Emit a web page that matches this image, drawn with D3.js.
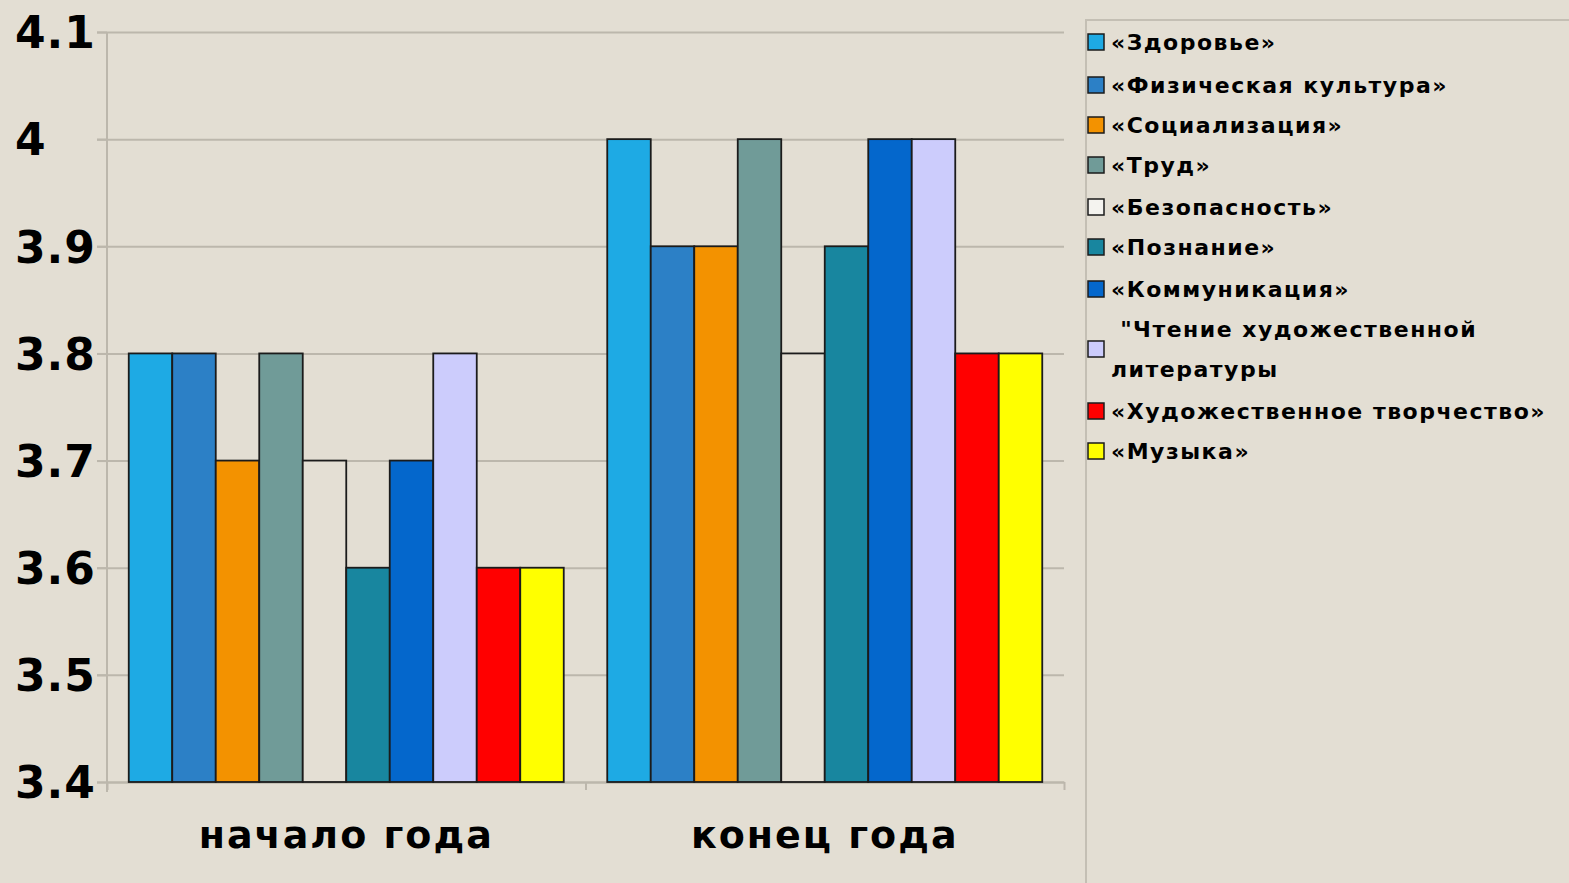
<!DOCTYPE html>
<html>
<head>
<meta charset="utf-8">
<script src="https://cdn.jsdelivr.net/npm/d3@7"></script>
<style>
  body { margin: 0; background: #e3ded3; }
  svg { display: block; }
  .grid line { stroke: #bcb7ac; stroke-width: 2; }
  .grid path { display: none; }
  .yaxis path, .yaxis line, .xaxis path, .xaxis line { stroke: #bcb7ac; stroke-width: 2; }
  .yaxis text { font-family: "DejaVu Sans"; font-weight: bold; font-size: 44px; letter-spacing: 1px; fill: #000; }
  .catlabel { font-family: "DejaVu Sans"; font-weight: bold; font-size: 38px; letter-spacing: 2px; fill: #000; }
  .legend text { font-family: "DejaVu Sans"; font-weight: bold; font-size: 22px; letter-spacing: 1.5px; fill: #000; }
</style>
</head>
<body>
<svg id="chart" width="1569" height="883"></svg>
<script>
// data
groups = ["начало года", "конец года"];
series = ["«Здоровье»", "«Физическая культура»", "«Социализация»", "«Труд»", "«Безопасность»",
          "«Познание»", "«Коммуникация»", "\u00a0\"Чтение художественной|литературы",
          "«Художественное творчество»", "«Музыка»"];
startValues = [3.8, 3.8, 3.7, 3.8, 3.7, 3.6, 3.7, 3.8, 3.6, 3.6];
endValues   = [4.0, 3.9, 3.9, 4.0, 3.8, 3.9, 4.0, 4.0, 3.8, 3.8];
colors = ["#1eaae4", "#2c80c6", "#f39200", "#709b98", "#e4dfd4",
          "#18869f", "#0467cc", "#ccccfc", "#ff0000", "#ffff00"];
yTicks = [3.4, 3.5, 3.6, 3.7, 3.8, 3.9, 4, 4.1];

let svg = d3.select("#chart");
let padding = {left: 107, right: 505, top: 32, bottom: 101};
let plotRight = 1569 - padding.right;
let plotBottom = 883 - padding.bottom;

let x0 = d3.scaleBand().domain(groups).range([padding.left, plotRight]);
let x1 = d3.scaleBand().domain(d3.range(series.length))
    .range([0, x0.bandwidth()]).paddingInner(0).paddingOuter(0.5);
let y = d3.scaleLinear().domain([3.4, 4.1]).range([plotBottom, padding.top]);

// grid lines
svg.append("g")
    .attr("class", "grid")
    .attr("transform", "translate(97,0)")
    .call(d3.axisRight(y).tickValues(yTicks).tickSize(plotRight - 97).tickFormat(""));

// y axis
let yAxis = svg.append("g")
    .attr("class", "yaxis")
    .attr("transform", "translate(" + padding.left + ",0)")
    .call(d3.axisLeft(y).tickValues(yTicks).tickSize(10).tickSizeOuter(0)
        .tickFormat(d => d === 4 ? "4" : d3.format(".1f")(d)));
yAxis.select(".domain").attr("d", "M0," + padding.top + "V" + (plotBottom + 10));
yAxis.selectAll("text")
    .attr("text-anchor", "start")
    .attr("x", 15 - padding.left)
    .attr("dy", "0.36em");

// x axis (ticks only at group bounds)
let xb = d3.scaleLinear().domain([0, groups.length]).range([padding.left, plotRight]);
svg.append("g")
    .attr("class", "xaxis")
    .attr("transform", "translate(0," + plotBottom + ")")
    .call(d3.axisBottom(xb).ticks(groups.length).tickSize(8).tickSizeOuter(0).tickFormat(""));

// bars
let rows = groups.map((g, gi) => ({group: g, values: gi === 0 ? startValues : endValues}));
let gGroups = svg.selectAll(".bargroup")
    .data(rows)
    .enter().append("g")
    .attr("class", "bargroup")
    .attr("transform", d => "translate(" + x0(d.group) + ",0)");

gGroups.selectAll("rect")
    .data(d => d.values.map((v, i) => ({i: i, v: v})))
    .enter().append("rect")
    .attr("x", d => x1(d.i))
    .attr("width", x1.bandwidth())
    .attr("y", d => y(d.v))
    .attr("height", d => plotBottom - y(d.v))
    .attr("fill", d => colors[d.i])
    .attr("stroke", "#1b1b1b")
    .attr("stroke-width", 1.8);

// category labels
svg.selectAll(".catlabel")
    .data(groups)
    .enter().append("text")
    .attr("class", "catlabel")
    .attr("x", d => x0(d) + x0.bandwidth() / 2)
    .attr("y", 848)
    .attr("text-anchor", "middle")
    .text(d => d);

// legend
svg.append("path")
    .attr("d", "M1569,20H1086V883")
    .attr("fill", "none")
    .attr("stroke", "#c4bfb4")
    .attr("stroke-width", 2);

let legendY = [42, 85, 125, 165, 207, 247, 289, 349, 411, 451];
let legend = svg.append("g").attr("class", "legend");
let items = legend.selectAll("g")
    .data(series)
    .enter().append("g")
    .attr("transform", (d, i) => "translate(1088," + legendY[i] + ")");

items.append("rect")
    .attr("x", 0).attr("y", -8)
    .attr("width", 16).attr("height", 16)
    .attr("fill", (d, i) => i === 4 ? "#f4f3ef" : colors[i])
    .attr("stroke", "#1b1b1b")
    .attr("stroke-width", 1.5);

items.each(function(d) {
    let lines = d.split("|");
    let t = d3.select(this).append("text")
        .attr("x", 23)
        .attr("y", lines.length > 1 ? -20 : 0)
        .attr("dy", "0.35em");
    lines.forEach((l, k) => {
        t.append("tspan").attr("x", 23).attr("dy", k === 0 ? "0.35em" : 40).text(l);
    });
});
</script>
</body>
</html>
